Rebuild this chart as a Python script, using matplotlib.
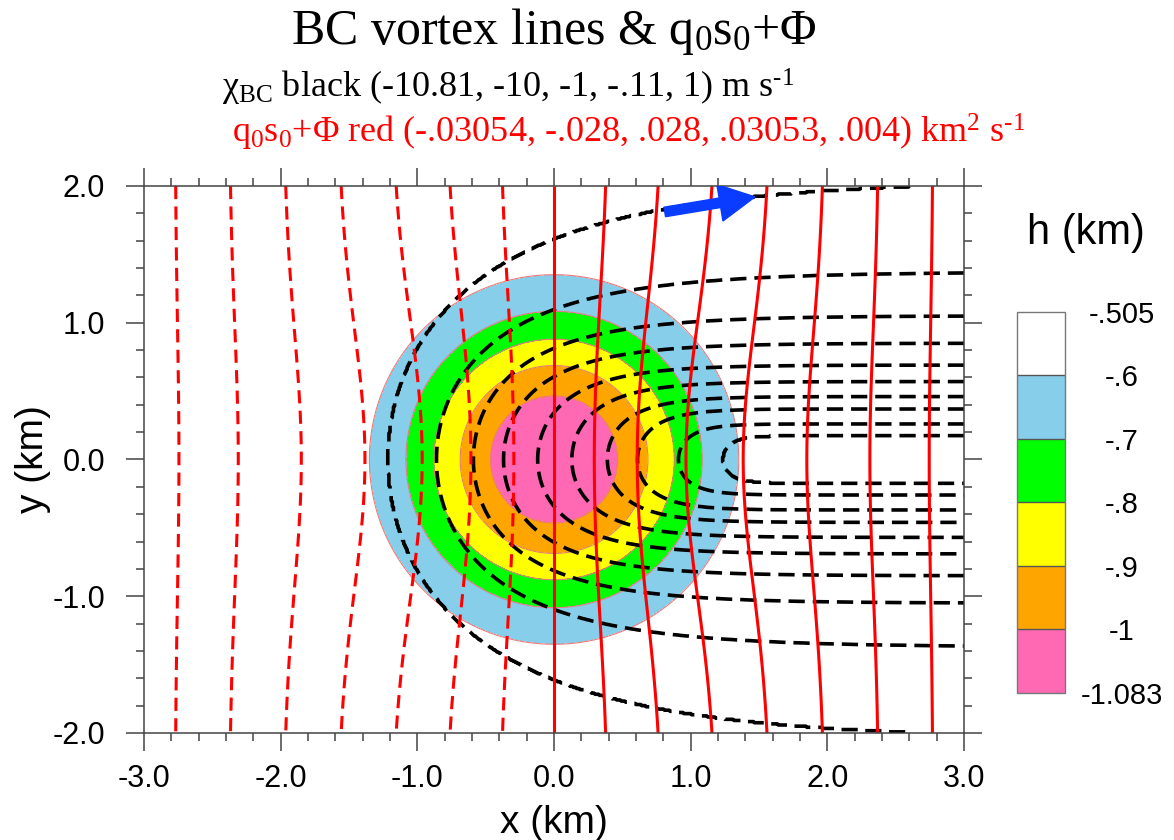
import numpy as np
import matplotlib
matplotlib.use('Agg')
import matplotlib.pyplot as plt

plt.rcParams['font.family'] = 'Liberation Sans'
plt.rcParams['mathtext.fontset'] = 'custom'
plt.rcParams['mathtext.rm'] = 'Liberation Serif'
plt.rcParams['mathtext.it'] = 'Liberation Serif:italic'

## contour levels / colours ##
h_levels = [-1.083, -1.0, -0.9, -0.8, -0.7, -0.6, -0.505]
h_labels = ['-1.083', '-1', '-.9', '-.8', '-.7', '-.6', '-.505']
h_colors = ['#ff69b4', '#ffa500', '#ffff00', '#00ff00', '#87ceeb', '#ffffff']
phi_levels = [-0.028, -0.024, -0.020, -0.016, -0.012, -0.008, -0.004, 0.0,
              0.004, 0.008, 0.012, 0.016, 0.020, 0.024, 0.028]

# chi_BC lines, innermost first: level, x of the tip on y=0, half width at x=3
chi_levels = [-1, -2, -3, -4, -5, -6, -7, -8, -9, -10]
chi_tip_x = [1.24, 0.91, 0.61, 0.39, 0.13, -0.12, -0.37, -0.59, -0.86, -1.22]
chi_edge_y = [0.17, 0.26, 0.37, 0.46, 0.57, 0.69, 0.85, 1.05, 1.37, 2.05]
chi_min, chi_max = -10.81, -0.11
chi_k = 1.63   # how fast a line opens up behind its tip

# vortex depression h(r): min -1.083 at centre, -0.505 far away
h_min, h_max = -1.083, -0.505
h_radius, h_power = 1.045, 2.3

# q0s0+Phi: background gradient, steepened near the vortex
phi_slope = 0.0101
phi_bump, phi_radius = 0.36, 1.45

# blue arrow (tail, tip) in km
arrow_tail = (0.81, 1.81)
arrow_tip = (1.47, 1.92)

x = np.linspace(-3, 3, 721)
y = np.linspace(-2, 2, 481)
X, Y = np.meshgrid(x, y)
R = np.sqrt(X**2 + Y**2)

h = h_max + (h_min - h_max) * np.exp(-(R / h_radius)**h_power)

# half width w of the U line through each grid point (bisection on ln w)
ln_edge = np.log(chi_edge_y)
lo = np.full(X.shape, -6.0)
hi = np.full(X.shape, 3.5)
for _ in range(50):
    mid = 0.5 * (lo + hi)
    w = np.exp(mid)
    u = (X - np.interp(mid, ln_edge, chi_tip_x)) / w
    yy = np.where(u > 0, w**2 * (1 - np.exp(-chi_k * np.clip(u, 0, None))), -1.0)
    inside = yy >= Y**2
    hi = np.where(inside, mid, hi)
    lo = np.where(inside, lo, mid)
chi = np.interp(0.5 * (lo + hi), ln_edge, chi_levels, left=chi_max, right=chi_min)

phi = phi_slope * X * (1 + phi_bump * np.exp(-(R / phi_radius)**2))

fig = plt.figure(figsize=(11.74, 8.40), dpi=100)
ax = fig.add_axes([0.1227, 0.1274, 0.6985, 0.6512])

cf = ax.contourf(X, Y, h, levels=h_levels, colors=h_colors)
ax.contour(X, Y, h, levels=h_levels[1:-1], colors='#e87a7a', linewidths=0.8,
           linestyles='solid')

ax.contour(X, Y, chi, levels=sorted(chi_levels), colors='black', linewidths=2.6,
           linestyles=[(0, (4.5, 2.2))])

phi_styles = ['solid' if v >= 0 else (0, (4.3, 2.4)) for v in phi_levels]
ax.contour(X, Y, phi, levels=phi_levels, colors='red', linewidths=2.2,
           linestyles=phi_styles)

ax.arrow(arrow_tail[0], arrow_tail[1],
         arrow_tip[0] - arrow_tail[0], arrow_tip[1] - arrow_tail[1],
         width=0.07, head_width=0.27, head_length=0.26,
         length_includes_head=True, color='#0a3cff', zorder=5)

ax.set_xlim(-3, 3)
ax.set_ylim(-2, 2)
ax.set_xticks(np.arange(-3, 3.01, 1.0))
ax.set_yticks(np.arange(-2, 2.01, 1.0))
ax.set_xticks(np.arange(-3, 3.01, 0.2), minor=True)
ax.set_yticks(np.arange(-2, 2.01, 0.2), minor=True)
ax.set_xticklabels(['%.1f' % v for v in np.arange(-3, 3.01, 1.0)])
ax.set_yticklabels(['%.1f' % v for v in np.arange(-2, 2.01, 1.0)])
ax.tick_params(which='both', direction='out', top=True, right=True,
               color='#444444', width=1.1)
ax.tick_params(which='major', length=13, labelsize=22)
ax.tick_params(which='minor', length=5.8)
ax.tick_params(axis='x', which='major', pad=9)
ax.tick_params(axis='y', which='major', pad=15)
for s in ax.spines.values():
    s.set_color('#444444')
    s.set_linewidth(1.1)

fig.text(0.028, 0.4536, 'y (km)', rotation=90, fontsize=28, ha='center', va='center')
fig.text(0.4719, 0.020, 'x (km)', fontsize=28, ha='center', va='center')

# titles
fig.text(0.4719, 0.962, r'BC vortex lines & q$_0$s$_0$+$\Phi$',
         family='Liberation Serif', fontsize=36, ha='center', va='center')
fig.text(0.189, 0.896,
         r'χ$_{\mathrm{BC}}$ black (-10.81, -10, -1, -.11, 1) m s$^{\text{-}1}$',
         family='Liberation Serif', fontsize=26, ha='left', va='center')
fig.text(0.1976, 0.842,
         r'q$_0$s$_0$+$\Phi$ red (-.03054, -.028, .028, .03053, .004) km$^2$ s$^{\text{-}1}$',
         family='Liberation Serif', fontsize=26, color='red', ha='left', va='center')

# colour bar
cax = fig.add_axes([0.8663, 0.175, 0.0409, 0.4536])
cb = fig.colorbar(cf, cax=cax, ticks=h_levels, drawedges=True)
cb.ax.set_yticklabels(h_labels)
cb.ax.tick_params(length=0, labelsize=21, pad=41)
for t in cb.ax.get_yticklabels():
    t.set_horizontalalignment('center')
cb.outline.set_edgecolor('#777777')
cb.outline.set_linewidth(1.0)
cb.dividers.set_color('#555555')
cb.dividers.set_linewidth(1.0)
fig.text(0.925, 0.7226, 'h (km)', fontsize=30, ha='center', va='center')

fig.savefig('out.png', dpi=100)
